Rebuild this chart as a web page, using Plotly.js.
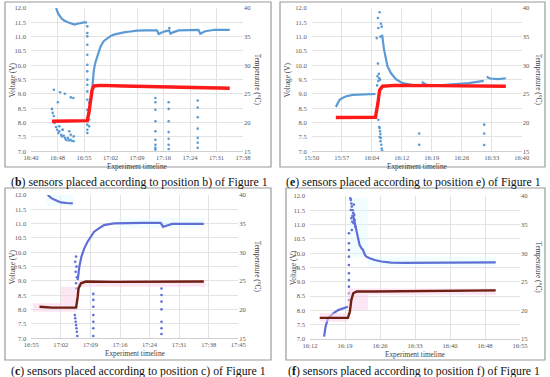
<!DOCTYPE html>
<html><head><meta charset="utf-8">
<script src="https://cdn.plot.ly/plotly-3.0.1.min.js"></script>
<style>html,body{margin:0;padding:0;background:#fff}#chart{width:550px;height:377px}</style>
</head><body><div id="chart"></div>
<script>
// ================= DATA =================
// time in minutes of day (hh*60+mm); voltage in V; temperature in °C
const ticksB = ['16:40','16:48','16:55','17:02','17:09','17:16','17:24','17:31','17:38'];
const ticksE = ['15:50','15:57','16:04','16:12','16:19','16:26','16:33','16:40'];
const ticksC = ['16:55','17:02','17:09','17:16','17:24','17:31','17:38','17:45'];
const ticksF = ['16:12','16:19','16:26','16:33','16:40','16:48','16:55'];
const voltTicks = [7.0,7.5,8.0,8.5,9.0,9.5,10.0,10.5,11.0,11.5,12.0];
const tempTicks = [15,20,25,30,35,40];

// ---- panel b ----
const bTempT = [1005.7,1008,1011,1013,1015.3,1015.8,1016.2,1016.6,1017.1,1019,1025,1030,1035,1040,1045,1050,1054];
const bTempV = [20.25,20.25,20.25,20.3,20.35,22.0,24.0,25.75,26.4,26.5,26.4,26.35,26.3,26.25,26.2,26.1,26.0];
const bVoltT = [1006.8,1007.4,1008.2,1009.0,1010.0,1010.9,1011.8,1012.6,1013.5,1014.4,1015.2,null,
  1016.5,1016.7,1017.1,1017.5,1018.0,1018.9,1019.8,1020.7,1021.6,1022.5,1023.8,1025.2,1027,1028.8,1031,1033.7,
  1034.2,1034.7,1035.3,1036.0,1037.0,1037.5,1037.9,1038.6,1040.1,1042,1045.5,1046.0,1046.6,1047.3,1050,1054];
const bVoltV = [12.0,11.8,11.65,11.56,11.5,11.46,11.42,11.45,11.48,11.5,11.5,null,
  9.0,9.27,9.85,10.1,10.31,10.66,10.85,10.95,11.02,11.07,11.12,11.15,11.18,11.21,11.22,11.24,
  11.22,11.09,11.13,11.17,11.2,11.22,11.1,11.15,11.22,11.23,11.24,11.1,11.15,11.19,11.24,11.24];
const bOutT = [1006.2,1007.3,1007.9,1009.2,1010.8,1011.5,1005.7,1005.9,1006.2,1006.4,
  1006.8,1007.1,1007.4,1007.7,1008.2,1008.4,1008.6,1008.9,1009.2,1009.5,1010.0,1010.2,1010.4,1010.7,1010.8,1011.1,1011.6,1011.6,1008.6,1007.7,
  1015.3,1015.3,1015.3,1015.3,1015.3,1015.3,1015.3,1015.3,1015.3,1015.3,1015.3,1015.3,1015.3,1015.3,1015.3,1015.3,
  1015.8,1015.8,1015.8,1015.8,
  1033.8,1033.8,1033.8,1033.8,1033.8,1033.8,1033.8,1033.8,1033.8,
  1037.4,1037.4,1037.4,1037.4,1037.4,1037.4,1037.4,1037.6,
  1045.3,1045.3,1045.3,1045.3,1045.3,1045.3,1045.3];
const bOutV = [9.15,8.71,9.06,9.01,8.88,8.86,8.48,8.34,8.23,7.99,
  7.85,7.75,7.64,7.70,7.58,7.52,7.75,7.54,7.46,7.40,7.46,7.38,7.70,7.40,7.58,7.37,7.35,7.52,7.75,7.87,
  11.36,11.13,11.01,10.72,10.37,10.02,9.79,9.50,9.32,9.09,8.80,8.45,8.16,7.93,7.75,7.64,
  8.69,8.34,8.11,7.87,
  8.86,8.71,8.45,8.05,7.70,7.40,7.23,7.12,7.06,
  8.71,8.48,8.05,7.67,7.44,7.23,7.08,11.3,
  8.77,8.53,8.19,7.79,7.47,7.30,7.12];

// ---- panel e ----
const eTempT = [955.8,960,965.3,965.9,966.3,967.0,970,980,990,996.6];
const eTempV = [20.9,20.9,20.95,23.45,25.65,26.35,26.5,26.45,26.4,26.35];
const eVoltT = [955.8,956.7,957.5,958.3,959.9,962.3,965.3,null,
  966.9,967.0,967.3,967.7,968.2,969.0,970.2,971.8,974.2,975.8,null,
  976.4,977.4,979.0,983.7,987.7,991.3,null,
  992.0,992.8,994.8,996.6];
const eVoltV = [8.55,8.8,8.87,8.92,8.97,8.98,9.0,null,
  11.07,10.9,10.6,10.31,9.96,9.73,9.52,9.38,9.30,9.27,null,
  9.42,9.33,9.28,9.33,9.38,9.46,null,
  9.6,9.54,9.52,9.55];
const eOutT = [965.7,966.0,966.2,965.8,966.1,966.4,965.9,965.6,966.0,965.9,966.3,966.6,966.8,966.5,
  966.0,966.2,966.3,966.4,966.5,966.3,966.6,966.5,966.7,966.8,966.9,
  975.8,975.8,991.4,991.4,991.4];
const eOutV = [9.3,9.45,9.55,9.62,9.7,9.5,10.06,10.95,11.3,11.65,11.85,11.45,11.35,11.0,
  8.1,7.85,7.81,7.7,7.6,7.5,7.46,7.35,7.23,7.1,7.03,
  7.62,7.23,7.93,7.62,7.22];

// ---- panel c ----
const cTempT = [1017.0,1020,1023,1025.9,1026.3,1026.5,1027.1,1028.3,1035,1045,1057.0];
const cTempV = [20.5,20.35,20.35,20.35,22.25,23.7,24.6,24.9,24.85,24.85,24.9];
const cVoltT = [1019.0,1019.8,1020.7,1021.5,1022.2,1023.6,1025.1,null,
  1026.3,1026.7,1027.2,1027.9,1028.7,1029.5,1030.3,1031.1,1032.7,1035.1,1038.4,1042,1046.5,1047.1,1047.7,1049.3,1052,1057.0];
const cVoltV = [12.0,11.9,11.83,11.78,11.74,11.72,11.71,null,
  9.03,9.5,9.85,10.14,10.37,10.55,10.72,10.8,10.95,11.01,11.03,11.03,11.03,10.89,10.92,10.99,10.99,10.99];
const cOutT = [1025.9,1025.7,1026.0,1025.8,1026.1,1025.9,1026.0,1025.6,1025.7,1025.8,1025.9,1026.0,1026.1,1026.2,
  1030.1,1030.1,1030.1,1030.1,1030.1,1030.1,1030.1,
  1046.7,1046.7,1046.7,1046.7,1046.7,1046.7,1046.7];
const cOutV = [9.85,9.67,9.5,9.32,9.13,8.92,8.74,7.81,7.7,7.58,7.46,7.35,7.23,7.08,
  8.55,8.34,8.10,7.81,7.58,7.35,7.08,
  8.74,8.51,8.28,8.01,7.58,7.35,7.15];
// shaded bands (start, end, low, high)
const cPinkX0 = [1015.4,1022.2,1026.3], cPinkX1 = [1025.9,1026.3,1057.4];
const cPinkLo = [19.65,21.1,24.0], cPinkHi = [21.1,24.0,25.15];
const cCyanX0 = [1018.5,1036.0], cCyanX1 = [1025.3,1057.4];
const cCyanLo = [11.62,10.85], cCyanHi = [12.0,11.2];

// ---- panel f ----
const fTempT = [974.0,977,979.8,980.2,980.5,980.9,981.6,985,990,1000,1010.2];
const fTempV = [18.7,18.65,18.7,19.75,21.8,23.0,23.3,23.3,23.35,23.4,23.5];
const fVoltT = [974.9,975.2,975.7,976.8,977.8,978.8,979.8,null,
  980.9,981.2,981.6,981.9,982.2,982.6,982.9,983.3,983.6,984.3,985.3,986.7,988.7,991.5,1000,1010.2];
const fVoltV = [7.08,7.43,7.72,7.90,8.01,8.07,8.13,null,
  11.3,11.05,10.7,10.47,10.29,10.17,10.12,9.94,9.88,9.82,9.76,9.71,9.67,9.66,9.67,9.68];
const fOutT = [980.0,980.0,980.0,980.0,980.0,980.0,980.0,980.0,980.0,980.0,
  980.3,980.4,980.5,980.6,980.4,980.9,981.1,980.5,981.2,980.7,981.0,981.3,980.6,980.8,981.0,980.7];
const fOutV = [8.36,8.60,8.83,9.06,9.30,9.59,9.88,10.11,10.35,10.70,
  11.92,11.86,11.74,11.63,11.51,11.40,11.34,11.22,11.16,11.10,11.05,10.93,10.81,11.5,11.7,11.3];
const fPinkX0 = [974.0,979.8,983.9], fPinkX1 = [979.8,983.9,1010.2];
const fPinkLo = [18.0,20.05,22.75], fPinkHi = [19.5,23.85,23.85];
const fCyanX0 = [980.0,983.9], fCyanX1 = [983.9,1010.2];
const fCyanLo = [9.88,9.55], fCyanHi = [11.92,9.88];

// ================= CHART =================
const SERIF = 'Liberation Serif, DejaVu Serif, serif';
const tickFont = {family:SERIF, size:6.6, color:'#595959'};
const W = 550, H = 377;
const px = v => v / W, py = v => 1 - v / H;

function rects(x0, x1, lo, hi){
  const xs = [], ys = [];
  for (let i = 0; i < x0.length; i++){
    xs.push(x0[i], x1[i], x1[i], x0[i], x0[i], null);
    ys.push(lo[i], lo[i], hi[i], hi[i], lo[i], null);
  }
  return {xs, ys};
}

const panels = [
  {key:'b', xa:'x',  yv:'y',  yt:'y2', start:1000, ticks:ticksB, colV:'#5b9bd5', colT:'#ff1a1a', tw:3.4,
   tT:bTempT, tV:bTempV, vT:bVoltT, vV:bVoltV, oT:bOutT, oV:bOutV},
  {key:'e', xa:'x2', yv:'y3', yt:'y4', start:950, ticks:ticksE, colV:'#5b9bd5', colT:'#ff1a1a', tw:3.4,
   tT:eTempT, tV:eTempV, vT:eVoltT, vV:eVoltV, oT:eOutT, oV:eOutV},
  {key:'c', xa:'x3', yv:'y5', yt:'y6', start:1015, ticks:ticksC, colV:'#5f6fd6', colT:'#6e1f12', tw:2.4,
   tT:cTempT, tV:cTempV, vT:cVoltT, vV:cVoltV, oT:cOutT, oV:cOutV,
   pink:[cPinkX0,cPinkX1,cPinkLo,cPinkHi], cyan:[cCyanX0,cCyanX1,cCyanLo,cCyanHi]},
  {key:'f', xa:'x4', yv:'y7', yt:'y8', start:972, ticks:ticksF, colV:'#5f6fd6', colT:'#6e1f12', tw:2.4,
   tT:fTempT, tV:fTempV, vT:fVoltT, vV:fVoltV, oT:fOutT, oV:fOutV,
   pink:[fPinkX0,fPinkX1,fPinkLo,fPinkHi], cyan:[fCyanX0,fCyanX1,fCyanLo,fCyanHi]}
];

const traces = [];
panels.forEach(p => {
  if (p.cyan){
    const r = rects(...p.cyan);
    traces.push({x:r.xs, y:r.ys, xaxis:p.xa, yaxis:p.yv, mode:'lines', fill:'toself',
      fillcolor:'rgba(220,249,253,0.4)', line:{width:0}, hoverinfo:'skip'});
  }
  if (p.pink){
    const r = rects(...p.pink);
    traces.push({x:r.xs, y:r.ys, xaxis:p.xa, yaxis:p.yt, mode:'lines', fill:'toself',
      fillcolor:'rgba(252,210,235,0.55)', line:{width:0}, hoverinfo:'skip'});
  }
  traces.push({x:p.vT, y:p.vV, xaxis:p.xa, yaxis:p.yv, mode:'lines',
    line:{color:p.colV, width:2.2}, connectgaps:false});
  traces.push({x:p.oT, y:p.oV, xaxis:p.xa, yaxis:p.yv, mode:'markers',
    marker:{color:p.colV, size:2.6}});
  traces.push({x:p.tT, y:p.tV, xaxis:p.xa, yaxis:p.yt, mode:'lines',
    line:{color:p.colT, width:p.tw}});
});

// geometry of the four plot areas (pixels)
const geo = {
  b:{x0:31,   x1:243,   y0:8,   y1:151.3, tx:257},
  e:{x0:311.7,x1:521.7, y0:8,   y1:151.3, tx:538},
  c:{x0:31.3, x1:238.3, y0:195, y1:338.3, tx:257},
  f:{x0:310,  x1:520,   y0:196, y1:339,   tx:538}
};
const boxes = {b:[5,271,2,167], e:[280,545,2,167], c:[5,271,188,360], f:[286,545,188,360]};
const captions = {
  b:'(<b>b</b>) sensors placed according to position b) of Figure 1',
  e:'(<b>e</b>) sensors placed according to position e) of Figure 1',
  c:'(<b>c</b>) sensors placed according to position c) of Figure 1',
  f:'(<b>f</b>) sensors placed according to position f) of Figure 1'
};
const capPos = {b:[139,182], e:[413,182], c:[138,371], f:[414,371]};

const layout = {
  width:W, height:H, margin:{l:0,r:0,t:0,b:0},
  paper_bgcolor:'#ffffff', plot_bgcolor:'rgba(0,0,0,0)',
  showlegend:false, shapes:[], annotations:[]
};

panels.forEach((p, i) => {
  const g = geo[p.key];
  const n = p.ticks.length - 1;
  const step = 7.2;
  const tv = p.ticks.map((_, k) => p.start + k * step);
  const xName = 'xaxis' + (i === 0 ? '' : (i + 1));
  const yvName = 'yaxis' + (2*i === 0 ? '' : (2*i + 1));
  const ytName = 'yaxis' + (2*i + 2);
  layout[xName] = {
    domain:[px(g.x0), px(g.x1)], range:[p.start, p.start + n*step], anchor:p.yv,
    tickmode:'array', tickvals:tv, ticktext:p.ticks, tickfont:tickFont,
    showgrid:true, gridcolor:'#e3e3e3', gridwidth:1, zeroline:false,
    showline:true, linecolor:'#d0d0d0', linewidth:1, ticks:'', fixedrange:true
  };
  layout[yvName] = {
    domain:[py(g.y1), py(g.y0)], range:[7,12], anchor:p.xa,
    tickmode:'array', tickvals:voltTicks, ticktext:voltTicks.map(v => v.toFixed(1)),
    tickfont:tickFont, showgrid:true, gridcolor:'#e3e3e3', gridwidth:1,
    zeroline:false, showline:false, ticks:'', ticklabelstandoff:4
  };
  layout[ytName] = {
    overlaying:p.yv, side:'right', anchor:p.xa, range:[15,40],
    tickmode:'array', tickvals:tempTicks, ticktext:tempTicks.map(String),
    tickfont:tickFont, showgrid:false, zeroline:false, showline:false, ticks:''
  };
  const bx = boxes[p.key];
  layout.shapes.push({type:'rect', xref:'paper', yref:'paper',
    x0:px(bx[0]), x1:px(bx[1]), y0:py(bx[3]), y1:py(bx[2]),
    line:{color:'#9a9a9a', width:1.2}, fillcolor:'rgba(0,0,0,0)', layer:'below'});
  const ym = (g.y0 + g.y1) / 2;
  const axFont = {family:SERIF, size:7.3, color:'#404040'};
  const common = {xref:'paper', yref:'paper', showarrow:false, xanchor:'center', yanchor:'middle'};
  layout.annotations.push(
    Object.assign({text:'Voltage (V)', x:px(bx[0] + 7.5), y:py(ym), textangle:-90, font:axFont}, common),
    Object.assign({text:'Temperature (°C)', x:px(g.tx), y:py(ym), textangle:90, font:axFont}, common),
    Object.assign({text:'Experiment timeline', x:px((g.x0 + g.x1)/2), y:py(g.y1 + 15.5), font:axFont}, common),
    Object.assign({text:captions[p.key], x:px(capPos[p.key][0]), y:py(capPos[p.key][1]),
      font:{family:SERIF, size:11.8, color:'#111'}}, common)
  );
});

Plotly.newPlot('chart', traces, layout, {staticPlot:true, displayModeBar:false});
</script></body></html>
